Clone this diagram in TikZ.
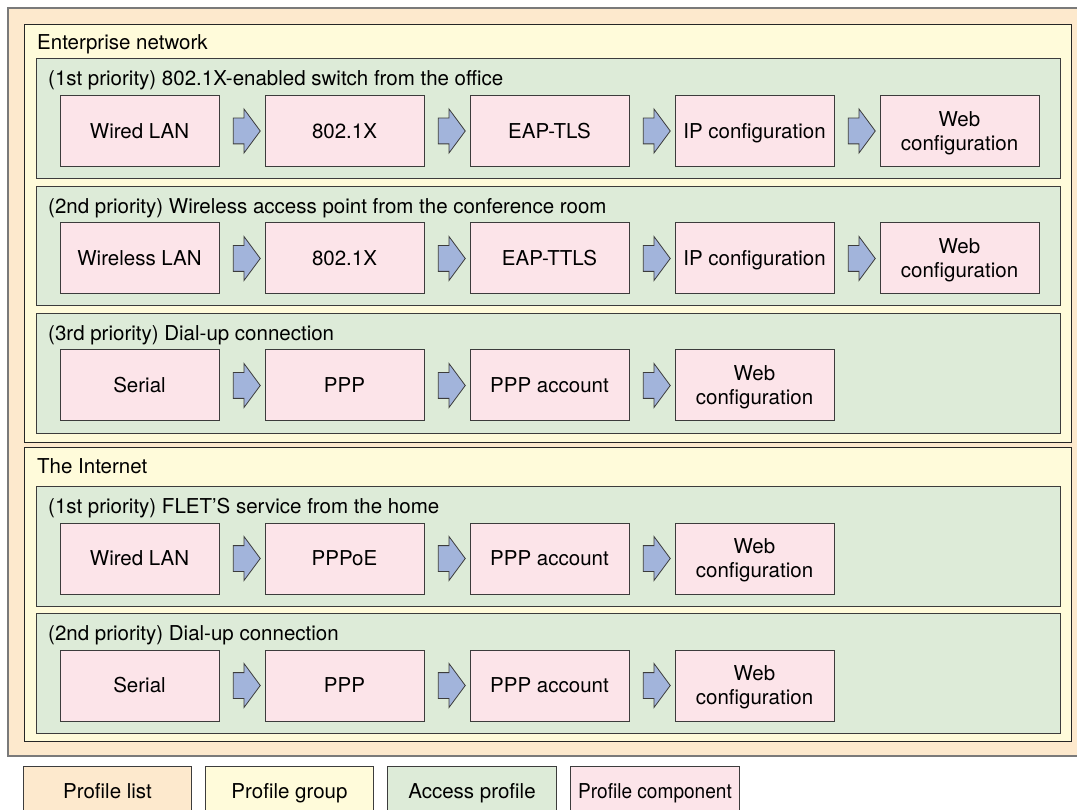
\documentclass[tikz,border=0pt]{standalone}
\usepackage{fontspec}
\setmainfont{TeX Gyre Heros}
\usetikzlibrary{shapes.arrows,calc}
\definecolor{plist}{HTML}{FDE9CD}
\definecolor{pgroup}{HTML}{FFFBDA}
\definecolor{paccess}{HTML}{DDEBD8}
\definecolor{pcomp}{HTML}{FCE4E9}
\definecolor{parrow}{HTML}{A2B4DB}
\definecolor{edgecol}{HTML}{3C3C3C}
\definecolor{outercol}{HTML}{7A7A7A}
\newcommand\dfont{\fontsize{20.5}{24}\selectfont}
\tikzset{
  comp/.style={draw=edgecol,fill=pcomp,line width=1pt,minimum width=159pt,minimum height=71pt,inner sep=0pt,align=center,font=\dfont,text height=14.7pt,text depth=0pt},
  twoline/.style={text height=38.7pt,text depth=0pt},
  blockarrow/.style={shape=single arrow,draw=edgecol,fill=parrow,line width=0.8pt,inner xsep=0pt,inner ysep=12.5pt,single arrow head extend=9pt,minimum height=27pt,single arrow tip angle=107},
  groupbox/.style={draw=black!85,fill=pgroup,line width=1pt,minimum width=1047pt,anchor=north west,inner sep=0pt},
  accessbox/.style={draw=edgecol,fill=paccess,line width=1pt,minimum width=1024pt,minimum height=119.5pt,anchor=north west,inner sep=0pt},
  boxlabel/.style={anchor=base west,inner sep=0pt,font=\dfont},
  legendbox/.style={minimum width=168pt,minimum height=43pt,inner sep=0pt,font=\dfont,text height=14.7pt,text depth=0pt},
  legendedge/.style={draw=edgecol,line width=1pt}
}
% #1 name, #2 centre y, #3 single-line items, #4 index of the final (two-line) item
\newcommand\makerow[4]{%
  \foreach[count=\i, remember=\i as \p (initially 0)] \t in {#3} {
    \node[comp] (#1c\i) at ({139.5+205*(\i-1)},#2) {\t};
    \ifnum\i>1
      \node[blockarrow] (#1a\i) at ($(#1c\p.east)!0.5!(#1c\i.west)$) {};
    \fi
  }%
  \pgfmathtruncatemacro\prevn{#4-1}%
  \node[comp,twoline] (#1c#4) at ({139.5+205*(#4-1)},#2) {Web\\configuration};
  \node[blockarrow] (#1a#4) at ($(#1c\prevn.east)!0.5!(#1c#4.west)$) {};
}
\begin{document}
\begin{tikzpicture}[x=1pt,y=-1pt]
\useasboundingbox (0,0) rectangle (1077,810);
% profile list
\fill[plist] (8,8) rectangle (1077,756);
\draw[outercol,line width=1.2pt] (1077,8) -- (8,8) -- (8,756) -- (1077,756);
% groups
\node[groupbox,minimum height=418pt] (g1) at (24,24) {};
\node[boxlabel] (g1l) at ($(g1.north west)+(13,26)$) {Enterprise network};
\node[groupbox,minimum height=294pt] (g2) at (24,447) {};
\node[boxlabel] (g2l) at ($(g2.north west)+(13,26.5)$) {The Internet};
% access profiles
\node[accessbox] (p1) at (36,58.5) {};
\node[boxlabel] (p1l) at ($(p1.north west)+(12,27.5)$) {(1st priority) 802.1X-enabled switch from the office};
\node[accessbox] (p2) at (36,186) {};
\node[boxlabel] (p2l) at ($(p2.north west)+(12,27.5)$) {(2nd priority) Wireless access point from the conference room};
\node[accessbox] (p3) at (36,313) {};
\node[boxlabel] (p3l) at ($(p3.north west)+(12,27.5)$) {(3rd priority) Dial-up connection};
\node[accessbox] (p4) at (36,486) {};
\node[boxlabel] (p4l) at ($(p4.north west)+(12,27.5)$) {(1st priority) FLET'S service from the home};
\node[accessbox] (p5) at (36,613) {};
\node[boxlabel] (p5l) at ($(p5.north west)+(12,27.5)$) {(2nd priority) Dial-up connection};
% components
\makerow{ra}{131}{Wired LAN,802.1X,EAP-TLS,IP configuration}{5}
\makerow{rb}{258.5}{Wireless LAN,802.1X,EAP-TTLS,IP configuration}{5}
\makerow{rc}{385.5}{Serial,PPP,PPP account}{4}
\makerow{rd}{558.5}{Wired LAN,PPPoE,PPP account}{4}
\makerow{re}{685.5}{Serial,PPP,PPP account}{4}
% legend
\node[legendbox,fill=plist] (l1) at (107.5,788.5) {\raisebox{-3pt}{Profile list}};
\node[legendbox,fill=pgroup] (l2) at (289.5,788.5) {\raisebox{-3pt}{Profile group}};
\node[legendbox,fill=paccess] (l3) at (472,788.5) {\raisebox{-3pt}{Access profile}};
\node[legendbox,fill=pcomp] (l4) at (655,788.5) {\raisebox{-3pt}{\scalebox{0.93}[1]{Profile component}}};
\foreach \n in {l1,l2,l3,l4}
  \draw[legendedge] (\n.south west) -- (\n.north west) -- (\n.north east) -- (\n.south east);
\end{tikzpicture}
\end{document}
